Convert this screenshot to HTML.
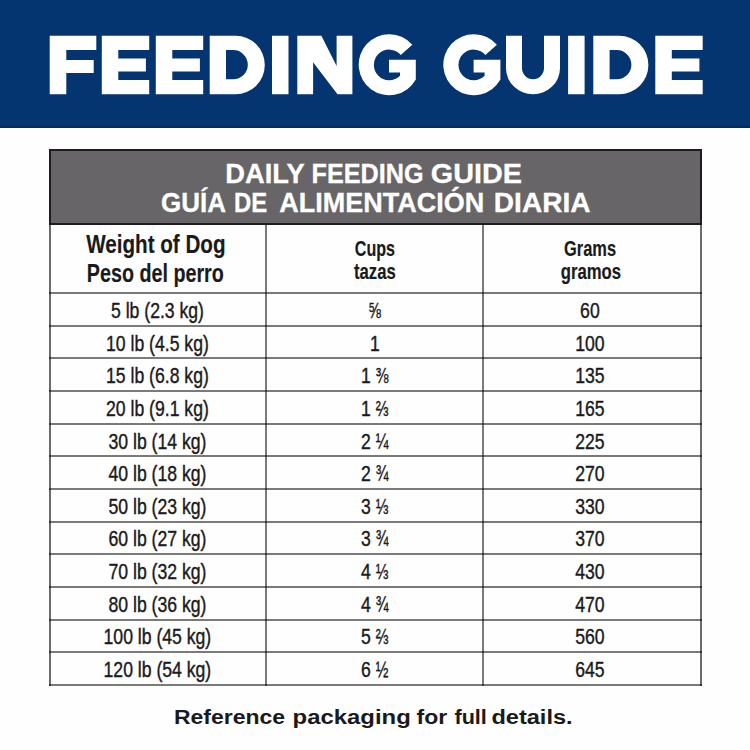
<!DOCTYPE html>
<html><head><meta charset="utf-8">
<style>
html,body{margin:0;padding:0;}
body{width:750px;height:750px;overflow:hidden;position:relative;font-family:"Liberation Sans",sans-serif;}
.t{position:absolute;white-space:nowrap;line-height:1;text-align:center;}
.t span{display:inline-block;transform-origin:50% 50%;}
.b{position:absolute;}
.t span.fr{transform:scaleX(0.86);transform-origin:0 50%;margin-right:-2.4px;}
</style></head><body style="background:#fefefe">
<div class="b" style="left:0;top:0;width:750px;height:128px;background:#043570"></div>
<div class="b" style="left:0;top:126px;width:750px;height:2px;background:#022a62"></div>
<svg style="position:absolute;left:0;top:0" width="750" height="128" viewBox="0 0 750 128"><path fill="#fff" fill-rule="evenodd" d="M49.7,35.8H96.3V49.9H66.3V59.9H93.7V73.1H66.3V94.2H49.7ZM101.8,35.8H149.2V49.9H118.3V58.4H145.9V71.6H118.3V79.9H149.2V94.2H101.8ZM155.8,35.8H203.2V49.9H172.3V58.4H199.9V71.6H172.3V79.9H203.2V94.2H155.8ZM209.7,35.8H235.6A29.2,29.2 0 0 1 235.6,94.2H209.7ZM226,50.1V79.3H233.2A14.6,14.6 0 0 0 233.2,50.1ZM272,35.8H288.5V94.2H272ZM297.3,35.8H321.4L336.6,66.1V35.8H352.4V94.2H337.5L313.1,62.3V94.2H297.3ZM412.29,44.78A30.5,30.5 0 1 0 415.8,79.62V59.7H389V72.6H400V75.74A15.3,15.3 0 1 1 400.78,54.91ZM496.89,44.78A30.5,30.5 0 1 0 500.4,79.62V59.7H473.6V72.6H484.6V75.74A15.3,15.3 0 1 1 485.38,54.91ZM506,35.8H522V68.2A11,11 0 0 0 544,68.2V35.8H560V68.2A27,26 0 0 1 506,68.2ZM568.1,35.8H584.6V94.2H568.1ZM593.3,35.8H619.2A29.2,29.2 0 0 1 619.2,94.2H593.3ZM609.6,50.1V79.3H616.8A14.6,14.6 0 0 0 616.8,50.1ZM655.3,35.8H702.7V49.9H671.8V58.4H699.4V71.6H671.8V79.9H702.7V94.2H655.3Z"/></svg>
<div class="b" style="left:49px;top:149px;width:653px;height:76px;background:#676567;box-sizing:border-box;border:2px solid #1e1c1e"></div>
<div class="t" style="left:-84.85px;width:700px;top:160.6px;font-size:26.8px;font-weight:bold;color:#fff;letter-spacing:0px;-webkit-text-stroke:0.3px #fff;"><span style="transform:scaleX(1.0164)">DAILY</span></div>
<div class="t" style="left:17.4px;width:700px;top:160.6px;font-size:26.8px;font-weight:bold;color:#fff;letter-spacing:0px;-webkit-text-stroke:0.3px #fff;"><span style="transform:scaleX(0.9402)">FEEDING</span></div>
<div class="t" style="left:126.25px;width:700px;top:160.6px;font-size:26.8px;font-weight:bold;color:#fff;letter-spacing:0px;-webkit-text-stroke:0.3px #fff;"><span style="transform:scaleX(1.0738)">GUIDE</span></div>
<div class="t" style="left:-156.85px;width:700px;top:190.1px;font-size:26.8px;font-weight:bold;color:#fff;letter-spacing:0px;-webkit-text-stroke:0.3px #fff;"><span style="transform:scaleX(0.9687)">GUÍA</span></div>
<div class="t" style="left:-99.5px;width:700px;top:190.1px;font-size:26.8px;font-weight:bold;color:#fff;letter-spacing:0px;-webkit-text-stroke:0.3px #fff;"><span style="transform:scaleX(0.8938)">DE</span></div>
<div class="t" style="left:32.15px;width:700px;top:190.1px;font-size:26.8px;font-weight:bold;color:#fff;letter-spacing:0px;-webkit-text-stroke:0.3px #fff;"><span style="transform:scaleX(1.0073)">ALIMENTACIÓN</span></div>
<div class="t" style="left:191.75px;width:700px;top:190.1px;font-size:26.8px;font-weight:bold;color:#fff;letter-spacing:0px;-webkit-text-stroke:0.3px #fff;"><span style="transform:scaleX(1.0467)">DIARIA</span></div>
<div class="b" style="left:49.0px;top:225px;width:2px;height:460.8px;background:rgba(0,0,0,0.58)"></div>
<div class="b" style="left:265.0px;top:225px;width:2px;height:460.8px;background:rgba(0,0,0,0.52)"></div>
<div class="b" style="left:481.6px;top:225px;width:2px;height:460.8px;background:rgba(0,0,0,0.52)"></div>
<div class="b" style="left:700.0px;top:225px;width:2px;height:460.8px;background:rgba(0,0,0,0.58)"></div>
<div class="b" style="left:49px;top:292.2px;width:653px;height:2px;background:rgba(0,0,0,0.52)"></div>
<div class="b" style="left:49px;top:324.83px;width:653px;height:2px;background:rgba(0,0,0,0.52)"></div>
<div class="b" style="left:49px;top:357.46px;width:653px;height:2px;background:rgba(0,0,0,0.52)"></div>
<div class="b" style="left:49px;top:390.09px;width:653px;height:2px;background:rgba(0,0,0,0.52)"></div>
<div class="b" style="left:49px;top:422.72px;width:653px;height:2px;background:rgba(0,0,0,0.52)"></div>
<div class="b" style="left:49px;top:455.35px;width:653px;height:2px;background:rgba(0,0,0,0.52)"></div>
<div class="b" style="left:49px;top:487.98px;width:653px;height:2px;background:rgba(0,0,0,0.52)"></div>
<div class="b" style="left:49px;top:520.61px;width:653px;height:2px;background:rgba(0,0,0,0.52)"></div>
<div class="b" style="left:49px;top:553.24px;width:653px;height:2px;background:rgba(0,0,0,0.52)"></div>
<div class="b" style="left:49px;top:585.87px;width:653px;height:2px;background:rgba(0,0,0,0.52)"></div>
<div class="b" style="left:49px;top:618.5px;width:653px;height:2px;background:rgba(0,0,0,0.52)"></div>
<div class="b" style="left:49px;top:651.13px;width:653px;height:2px;background:rgba(0,0,0,0.52)"></div>
<div class="b" style="left:49px;top:683.76px;width:653px;height:2px;background:rgba(0,0,0,0.52)"></div>
<div class="t" style="left:-194.25px;width:700px;top:230.92px;font-size:26.3px;font-weight:bold;color:#1a1a1a;letter-spacing:0px;-webkit-text-stroke:0.15px #1a1a1a;"><span style="transform:scaleX(0.784)">Weight of Dog</span></div>
<div class="t" style="left:-194.65px;width:700px;top:260.22px;font-size:26.3px;font-weight:bold;color:#1a1a1a;letter-spacing:0px;-webkit-text-stroke:0.15px #1a1a1a;"><span style="transform:scaleX(0.75)">Peso del perro</span></div>
<div class="t" style="left:25.15px;width:700px;top:238.99px;font-size:21.5px;font-weight:bold;color:#1a1a1a;letter-spacing:0px;-webkit-text-stroke:0.15px #1a1a1a;"><span style="transform:scaleX(0.748)">Cups</span></div>
<div class="t" style="left:25.35px;width:700px;top:262.09px;font-size:21.5px;font-weight:bold;color:#1a1a1a;letter-spacing:0px;-webkit-text-stroke:0.15px #1a1a1a;"><span style="transform:scaleX(0.776)">tazas</span></div>
<div class="t" style="left:240.15px;width:700px;top:238.99px;font-size:21.5px;font-weight:bold;color:#1a1a1a;letter-spacing:0px;-webkit-text-stroke:0.15px #1a1a1a;"><span style="transform:scaleX(0.764)">Grams</span></div>
<div class="t" style="left:240.65px;width:700px;top:262.09px;font-size:21.5px;font-weight:bold;color:#1a1a1a;letter-spacing:0px;-webkit-text-stroke:0.15px #1a1a1a;"><span style="transform:scaleX(0.776)">gramos</span></div>
<div class="t" style="left:-192.8px;width:700px;top:301.07px;font-size:21.4px;font-weight:normal;color:#1a1a1a;letter-spacing:0px;-webkit-text-stroke:0.4px #1a1a1a;"><span style="transform:scaleX(0.823)">5 lb (2.3 kg)</span></div>
<div class="t" style="left:25.0px;width:700px;top:301.07px;font-size:21.4px;font-weight:normal;color:#1a1a1a;letter-spacing:0px;-webkit-text-stroke:0.4px #1a1a1a;"><span style="transform:scaleX(0.823)"><span class="fr">⅝</span></span></div>
<div class="t" style="left:239.7px;width:700px;top:301.07px;font-size:21.4px;font-weight:normal;color:#1a1a1a;letter-spacing:0px;-webkit-text-stroke:0.4px #1a1a1a;"><span style="transform:scaleX(0.823)">60</span></div>
<div class="t" style="left:-192.8px;width:700px;top:333.7px;font-size:21.4px;font-weight:normal;color:#1a1a1a;letter-spacing:0px;-webkit-text-stroke:0.4px #1a1a1a;"><span style="transform:scaleX(0.823)">10 lb (4.5 kg)</span></div>
<div class="t" style="left:25.0px;width:700px;top:333.7px;font-size:21.4px;font-weight:normal;color:#1a1a1a;letter-spacing:0px;-webkit-text-stroke:0.4px #1a1a1a;"><span style="transform:scaleX(0.823)">1</span></div>
<div class="t" style="left:239.7px;width:700px;top:333.7px;font-size:21.4px;font-weight:normal;color:#1a1a1a;letter-spacing:0px;-webkit-text-stroke:0.4px #1a1a1a;"><span style="transform:scaleX(0.823)">100</span></div>
<div class="t" style="left:-192.8px;width:700px;top:366.33px;font-size:21.4px;font-weight:normal;color:#1a1a1a;letter-spacing:0px;-webkit-text-stroke:0.4px #1a1a1a;"><span style="transform:scaleX(0.823)">15 lb (6.8 kg)</span></div>
<div class="t" style="left:25.0px;width:700px;top:366.33px;font-size:21.4px;font-weight:normal;color:#1a1a1a;letter-spacing:0px;-webkit-text-stroke:0.4px #1a1a1a;"><span style="transform:scaleX(0.823)">1 <span class="fr">⅜</span></span></div>
<div class="t" style="left:239.7px;width:700px;top:366.33px;font-size:21.4px;font-weight:normal;color:#1a1a1a;letter-spacing:0px;-webkit-text-stroke:0.4px #1a1a1a;"><span style="transform:scaleX(0.823)">135</span></div>
<div class="t" style="left:-192.8px;width:700px;top:398.96px;font-size:21.4px;font-weight:normal;color:#1a1a1a;letter-spacing:0px;-webkit-text-stroke:0.4px #1a1a1a;"><span style="transform:scaleX(0.823)">20 lb (9.1 kg)</span></div>
<div class="t" style="left:25.0px;width:700px;top:398.96px;font-size:21.4px;font-weight:normal;color:#1a1a1a;letter-spacing:0px;-webkit-text-stroke:0.4px #1a1a1a;"><span style="transform:scaleX(0.823)">1 <span class="fr">⅔</span></span></div>
<div class="t" style="left:239.7px;width:700px;top:398.96px;font-size:21.4px;font-weight:normal;color:#1a1a1a;letter-spacing:0px;-webkit-text-stroke:0.4px #1a1a1a;"><span style="transform:scaleX(0.823)">165</span></div>
<div class="t" style="left:-192.8px;width:700px;top:431.59px;font-size:21.4px;font-weight:normal;color:#1a1a1a;letter-spacing:0px;-webkit-text-stroke:0.4px #1a1a1a;"><span style="transform:scaleX(0.823)">30 lb (14 kg)</span></div>
<div class="t" style="left:25.0px;width:700px;top:431.59px;font-size:21.4px;font-weight:normal;color:#1a1a1a;letter-spacing:0px;-webkit-text-stroke:0.4px #1a1a1a;"><span style="transform:scaleX(0.823)">2 <span class="fr">¼</span></span></div>
<div class="t" style="left:239.7px;width:700px;top:431.59px;font-size:21.4px;font-weight:normal;color:#1a1a1a;letter-spacing:0px;-webkit-text-stroke:0.4px #1a1a1a;"><span style="transform:scaleX(0.823)">225</span></div>
<div class="t" style="left:-192.8px;width:700px;top:464.22px;font-size:21.4px;font-weight:normal;color:#1a1a1a;letter-spacing:0px;-webkit-text-stroke:0.4px #1a1a1a;"><span style="transform:scaleX(0.823)">40 lb (18 kg)</span></div>
<div class="t" style="left:25.0px;width:700px;top:464.22px;font-size:21.4px;font-weight:normal;color:#1a1a1a;letter-spacing:0px;-webkit-text-stroke:0.4px #1a1a1a;"><span style="transform:scaleX(0.823)">2 <span class="fr">¾</span></span></div>
<div class="t" style="left:239.7px;width:700px;top:464.22px;font-size:21.4px;font-weight:normal;color:#1a1a1a;letter-spacing:0px;-webkit-text-stroke:0.4px #1a1a1a;"><span style="transform:scaleX(0.823)">270</span></div>
<div class="t" style="left:-192.8px;width:700px;top:496.85px;font-size:21.4px;font-weight:normal;color:#1a1a1a;letter-spacing:0px;-webkit-text-stroke:0.4px #1a1a1a;"><span style="transform:scaleX(0.823)">50 lb (23 kg)</span></div>
<div class="t" style="left:25.0px;width:700px;top:496.85px;font-size:21.4px;font-weight:normal;color:#1a1a1a;letter-spacing:0px;-webkit-text-stroke:0.4px #1a1a1a;"><span style="transform:scaleX(0.823)">3 <span class="fr">⅓</span></span></div>
<div class="t" style="left:239.7px;width:700px;top:496.85px;font-size:21.4px;font-weight:normal;color:#1a1a1a;letter-spacing:0px;-webkit-text-stroke:0.4px #1a1a1a;"><span style="transform:scaleX(0.823)">330</span></div>
<div class="t" style="left:-192.8px;width:700px;top:529.48px;font-size:21.4px;font-weight:normal;color:#1a1a1a;letter-spacing:0px;-webkit-text-stroke:0.4px #1a1a1a;"><span style="transform:scaleX(0.823)">60 lb (27 kg)</span></div>
<div class="t" style="left:25.0px;width:700px;top:529.48px;font-size:21.4px;font-weight:normal;color:#1a1a1a;letter-spacing:0px;-webkit-text-stroke:0.4px #1a1a1a;"><span style="transform:scaleX(0.823)">3 <span class="fr">¾</span></span></div>
<div class="t" style="left:239.7px;width:700px;top:529.48px;font-size:21.4px;font-weight:normal;color:#1a1a1a;letter-spacing:0px;-webkit-text-stroke:0.4px #1a1a1a;"><span style="transform:scaleX(0.823)">370</span></div>
<div class="t" style="left:-192.8px;width:700px;top:562.11px;font-size:21.4px;font-weight:normal;color:#1a1a1a;letter-spacing:0px;-webkit-text-stroke:0.4px #1a1a1a;"><span style="transform:scaleX(0.823)">70 lb (32 kg)</span></div>
<div class="t" style="left:25.0px;width:700px;top:562.11px;font-size:21.4px;font-weight:normal;color:#1a1a1a;letter-spacing:0px;-webkit-text-stroke:0.4px #1a1a1a;"><span style="transform:scaleX(0.823)">4 <span class="fr">⅓</span></span></div>
<div class="t" style="left:239.7px;width:700px;top:562.11px;font-size:21.4px;font-weight:normal;color:#1a1a1a;letter-spacing:0px;-webkit-text-stroke:0.4px #1a1a1a;"><span style="transform:scaleX(0.823)">430</span></div>
<div class="t" style="left:-192.8px;width:700px;top:594.74px;font-size:21.4px;font-weight:normal;color:#1a1a1a;letter-spacing:0px;-webkit-text-stroke:0.4px #1a1a1a;"><span style="transform:scaleX(0.823)">80 lb (36 kg)</span></div>
<div class="t" style="left:25.0px;width:700px;top:594.74px;font-size:21.4px;font-weight:normal;color:#1a1a1a;letter-spacing:0px;-webkit-text-stroke:0.4px #1a1a1a;"><span style="transform:scaleX(0.823)">4 <span class="fr">¾</span></span></div>
<div class="t" style="left:239.7px;width:700px;top:594.74px;font-size:21.4px;font-weight:normal;color:#1a1a1a;letter-spacing:0px;-webkit-text-stroke:0.4px #1a1a1a;"><span style="transform:scaleX(0.823)">470</span></div>
<div class="t" style="left:-192.8px;width:700px;top:627.37px;font-size:21.4px;font-weight:normal;color:#1a1a1a;letter-spacing:0px;-webkit-text-stroke:0.4px #1a1a1a;"><span style="transform:scaleX(0.823)">100 lb (45 kg)</span></div>
<div class="t" style="left:25.0px;width:700px;top:627.37px;font-size:21.4px;font-weight:normal;color:#1a1a1a;letter-spacing:0px;-webkit-text-stroke:0.4px #1a1a1a;"><span style="transform:scaleX(0.823)">5 <span class="fr">⅔</span></span></div>
<div class="t" style="left:239.7px;width:700px;top:627.37px;font-size:21.4px;font-weight:normal;color:#1a1a1a;letter-spacing:0px;-webkit-text-stroke:0.4px #1a1a1a;"><span style="transform:scaleX(0.823)">560</span></div>
<div class="t" style="left:-192.8px;width:700px;top:660.0px;font-size:21.4px;font-weight:normal;color:#1a1a1a;letter-spacing:0px;-webkit-text-stroke:0.4px #1a1a1a;"><span style="transform:scaleX(0.823)">120 lb (54 kg)</span></div>
<div class="t" style="left:25.0px;width:700px;top:660.0px;font-size:21.4px;font-weight:normal;color:#1a1a1a;letter-spacing:0px;-webkit-text-stroke:0.4px #1a1a1a;"><span style="transform:scaleX(0.823)">6 <span class="fr">½</span></span></div>
<div class="t" style="left:239.7px;width:700px;top:660.0px;font-size:21.4px;font-weight:normal;color:#1a1a1a;letter-spacing:0px;-webkit-text-stroke:0.4px #1a1a1a;"><span style="transform:scaleX(0.823)">645</span></div>
<div class="t" style="left:-120.6px;width:700px;top:707.0px;font-size:20.9px;font-weight:bold;color:#1a1a1a;letter-spacing:0px;"><span style="transform:scaleX(1.1001)">Reference</span></div>
<div class="t" style="left:1.3px;width:700px;top:707.0px;font-size:20.9px;font-weight:bold;color:#1a1a1a;letter-spacing:0px;"><span style="transform:scaleX(1.1439)">packaging</span></div>
<div class="t" style="left:81.7px;width:700px;top:707.0px;font-size:20.9px;font-weight:bold;color:#1a1a1a;letter-spacing:0px;"><span style="transform:scaleX(1.1036)">for</span></div>
<div class="t" style="left:121.1px;width:700px;top:707.0px;font-size:20.9px;font-weight:bold;color:#1a1a1a;letter-spacing:0px;"><span style="transform:scaleX(1.0336)">full</span></div>
<div class="t" style="left:182.3px;width:700px;top:707.0px;font-size:20.9px;font-weight:bold;color:#1a1a1a;letter-spacing:0px;"><span style="transform:scaleX(1.1283)">details.</span></div>
</body></html>
